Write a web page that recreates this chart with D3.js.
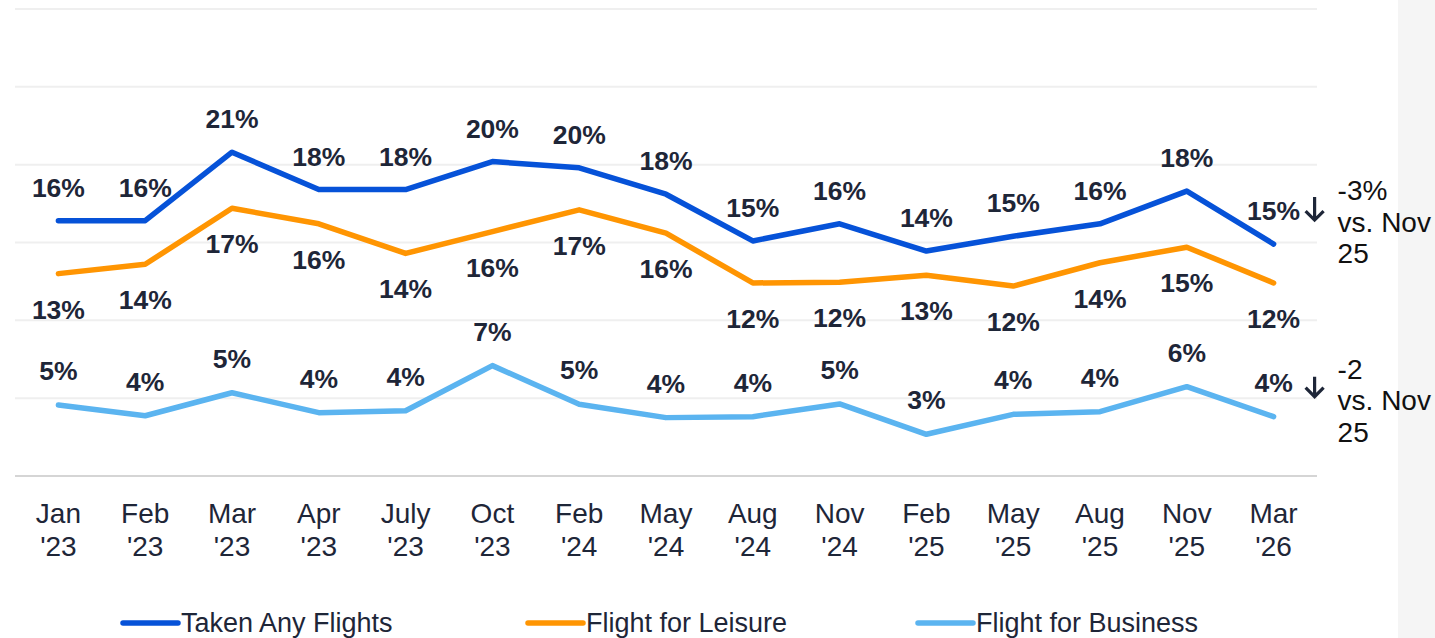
<!DOCTYPE html>
<html>
  <head>
    <script src="https://d3js.org/d3.v7.min.js"></script>
    <style>
      body { margin: 0; background: #fff; }
      text { font-family: "Liberation Sans", Arial, sans-serif; }
    </style>
  </head>
  <body>
    <div id="chart"></div>
  <script>
    var width = 1435,
        height = 638;

    // data
    var months = ["Jan", "Feb", "Mar", "Apr", "July", "Oct", "Feb", "May", "Aug", "Nov", "Feb", "May", "Aug", "Nov", "Mar"];
    var years = ["'23", "'23", "'23", "'23", "'23", "'23", "'24", "'24", "'24", "'24", "'25", "'25", "'25", "'25", "'26"];
    var anyFlights = [16.4, 16.4, 20.8, 18.4, 18.4, 20.2, 19.8, 18.1, 15.1, 16.2, 14.45, 15.4, 16.2, 18.3, 14.9];
    var anyLabels = ["16%", "16%", "21%", "18%", "18%", "20%", "20%", "18%", "15%", "16%", "14%", "15%", "16%", "18%", "15%"];
    var leisure = [13.0, 13.6, 17.2, 16.2, 14.3, 15.7, 17.1, 15.6, 12.4, 12.45, 12.9, 12.2, 13.7, 14.7, 12.4];
    var leisureLabels = ["13%", "14%", "17%", "16%", "14%", "16%", "17%", "16%", "12%", "12%", "13%", "12%", "14%", "15%", "12%"];
    var business = [4.56, 3.87, 5.35, 4.07, 4.19, 7.09, 4.61, 3.75, 3.81, 4.63, 2.68, 3.96, 4.13, 5.74, 3.81];
    var businessLabels = ["5%", "4%", "5%", "4%", "4%", "7%", "5%", "4%", "4%", "5%", "3%", "4%", "4%", "6%", "4%"];
    var yTicks = [0, 5, 10, 15, 20, 25, 30];

    var labelColor = "#1e2638";

    var series = [
      { name: "Taken Any Flights", values: anyFlights, labels: anyLabels, color: "#0652d8", dy: -24, legendX: 123 },
      { name: "Flight for Leisure", values: leisure, labels: leisureLabels, color: "#ff9502", dy: 45, legendX: 528 },
      { name: "Flight for Business", values: business, labels: businessLabels, color: "#5bb4f0", dy: -25, legendX: 918 }
    ];

    var svg = d3.select("#chart").append("svg")
        .attr("width", width)
        .attr("height", height);

    // grey strip on the right
    svg.append("rect")
        .attr("x", 1398).attr("y", 0)
        .attr("width", width - 1398).attr("height", height)
        .attr("fill", "#f5f5f5");

    var idx = d3.range(months.length);

    var x = d3.scalePoint()
        .domain(idx)
        .range([15, 1317])
        .padding(0.5);

    var y = d3.scaleLinear()
        .domain([0, 30])
        .range([476, 9]);

    // gridlines
    svg.append("g")
      .selectAll("line")
      .data(yTicks)
      .enter()
      .append("line")
        .attr("x1", 15)
        .attr("x2", 1317)
        .attr("y1", d => y(d))
        .attr("y2", d => y(d))
        .attr("stroke", d => d === 0 ? "#d5d5d5" : "#efefef")
        .attr("stroke-width", 2);

    // x axis labels, two lines each
    var xl = svg.append("g")
      .selectAll("text")
      .data(idx)
      .enter()
      .append("text")
        .attr("text-anchor", "middle")
        .attr("fill", labelColor)
        .style("font-size", "28px");
    xl.append("tspan")
        .attr("x", d => x(d))
        .attr("y", 523)
        .text(d => months[d]);
    xl.append("tspan")
        .attr("x", d => x(d))
        .attr("y", 556)
        .text(d => years[d]);

    var line = d3.line()
        .x((d, i) => x(i))
        .y(d => y(d));

    series.forEach(function(s) {
      svg.append("path")
          .datum(s.values)
          .attr("d", line)
          .attr("fill", "none")
          .attr("stroke", s.color)
          .attr("stroke-width", 5.5)
          .attr("stroke-linejoin", "round")
          .attr("stroke-linecap", "round");

      svg.append("g")
        .selectAll("text")
        .data(s.values)
        .enter()
        .append("text")
          .attr("x", (d, i) => x(i))
          .attr("y", d => y(d) + s.dy)
          .attr("text-anchor", "middle")
          .attr("fill", labelColor)
          .style("font-size", "26.5px")
          .style("font-weight", "bold")
          .text((d, i) => s.labels[i]);

      // legend
      svg.append("line")
          .attr("x1", s.legendX)
          .attr("x2", s.legendX + 55)
          .attr("y1", 623)
          .attr("y2", 623)
          .attr("stroke", s.color)
          .attr("stroke-width", 5.5)
          .attr("stroke-linecap", "round");
      svg.append("text")
          .attr("x", s.legendX + 58)
          .attr("y", 632)
          .attr("fill", labelColor)
          .style("font-size", "27px")
          .text(s.name);
    });

    // change notes beside the last point
    var last = months.length - 1;
    var notes = [
      { value: anyFlights[last], arrowBottom: -24, arrowH: 23, textTop: -44, lines: ["-3%", "vs. Nov", "25"] },
      { value: business[last], arrowBottom: -20, arrowH: 20, textTop: -38, lines: ["-2", "vs. Nov", "25"] }
    ];

    notes.forEach(function(n) {
      var ax = x(last) + 41,
          ay = y(n.value) + n.arrowBottom;
      svg.append("path")
          .attr("d", `M${ax},${ay - n.arrowH} V${ay} M${ax - 9},${ay - 9} L${ax},${ay} L${ax + 9},${ay - 9}`)
          .attr("fill", "none")
          .attr("stroke", labelColor)
          .attr("stroke-width", 3.2);

      var t = svg.append("text")
          .attr("fill", "#111")
          .style("font-size", "28px");
      n.lines.forEach(function(l, k) {
        t.append("tspan")
            .attr("x", x(last) + 64)
            .attr("y", y(n.value) + n.textTop + k * 31.5)
            .text(l);
      });
    });
  </script>
  </body>
</html>
